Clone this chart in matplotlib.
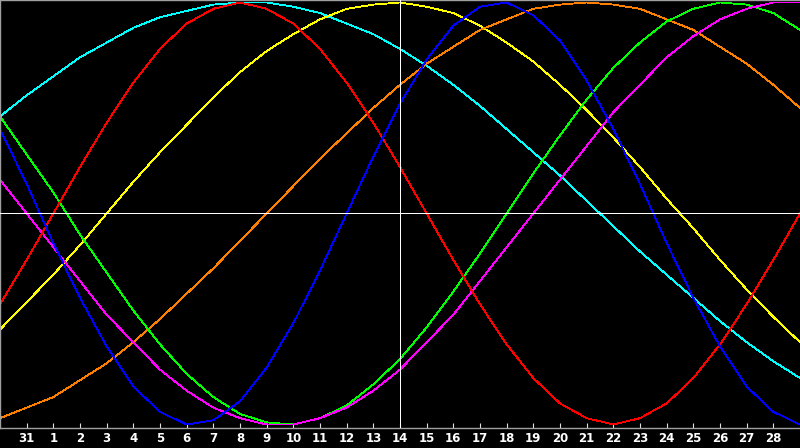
import matplotlib
matplotlib.use('Agg')

import matplotlib.pyplot as plt

# day labels along the bottom (slot 0 and slot 30 have no label)
day_labels = ["31"] + [str(d) for d in range(1, 29)]
today_slot = 15  # "14"

# cycle values in percent, one per day slot 0..30
physical = [40, 14, -14, -40, -63, -82, -94, -100, -98, -89, -73, -52, -27, 0, 27, 52,
            73, 89, 98, 100, 94, 82, 63, 40, 14, -14, -40, -63, -82, -94, -100]
emotional = [-43, -22, 0, 22, 43, 62, 78, 90, 97, 100, 97, 90, 78, 62, 43, 22,
             0, -22, -43, -62, -78, -90, -97, -100, -97, -90, -78, -62, -43, -22, 0]
intellectual = [46, 28, 10, -10, -28, -46, -62, -76, -87, -95, -99, -100, -97, -91, -81, -69,
                -54, -37, -19, 0, 19, 37, 54, 69, 81, 91, 97, 100, 99, 95, 87]
intuitive = [16, 0, -16, -32, -48, -61, -74, -84, -92, -97, -100, -100, -97, -92, -84, -74,
             -61, -48, -32, -16, 0, 16, 32, 48, 61, 74, 84, 92, 97, 100, 100]
aesthetic = [-55, -42, -29, -15, 0, 15, 29, 42, 55, 67, 77, 85, 92, 97, 99, 100,
             98, 95, 89, 81, 72, 61, 49, 36, 22, 7, -7, -22, -36, -49, -61]
awareness = [-97, -92, -87, -79, -71, -61, -50, -38, -26, -13, 0, 13, 26, 38, 50, 61,
             71, 79, 87, 92, 97, 99, 100, 99, 97, 92, 87, 79, 71, 61, 50]
spiritual = [46, 56, 65, 74, 81, 88, 93, 96, 99, 100, 100, 98, 95, 90, 85, 78,
             70, 61, 51, 40, 29, 18, 6, -6, -18, -29, -40, -51, -61, -70, -78]

series = [
    (spiritual, "#00ffff"),
    (aesthetic, "#ffff00"),
    (awareness, "#ff8000"),
    (intellectual, "#00ff00"),
    (intuitive, "#ff00ff"),
    (emotional, "#ff0000"),
    (physical, "#0000ff"),
]

fig = plt.figure(figsize=(8, 4.48), dpi=100, facecolor="black")
ax = fig.add_axes([0, 20 / 448, 1, 428 / 448])
ax.set_facecolor("black")

slots = list(range(len(physical)))
for vals, col in series:
    ax.plot(slots, vals, color=col, lw=0.6, antialiased=False, zorder=2)

ax.axhline(0, color="white", lw=0.7, antialiased=False, zorder=3)
ax.axvline(today_slot, color="white", lw=0.7, antialiased=False, zorder=3)

ax.set_xlim(0, 30)
ax.set_ylim(-101.66, 101.18)

ax.set_xticks(range(1, 30))
ax.set_xticklabels(day_labels, color="white", fontsize=8.5, fontweight="bold")
ax.tick_params(axis="x", direction="in", length=3.5, width=0.8, color="#e0e0e0", pad=3)
ax.set_yticks([])

for side in ["left", "top", "bottom"]:
    ax.spines[side].set_color("#a0a0a0")
    ax.spines[side].set_linewidth(1.0)
ax.spines["right"].set_visible(False)

fig.savefig("out.png", dpi=100, facecolor="black")
plt.close(fig)
